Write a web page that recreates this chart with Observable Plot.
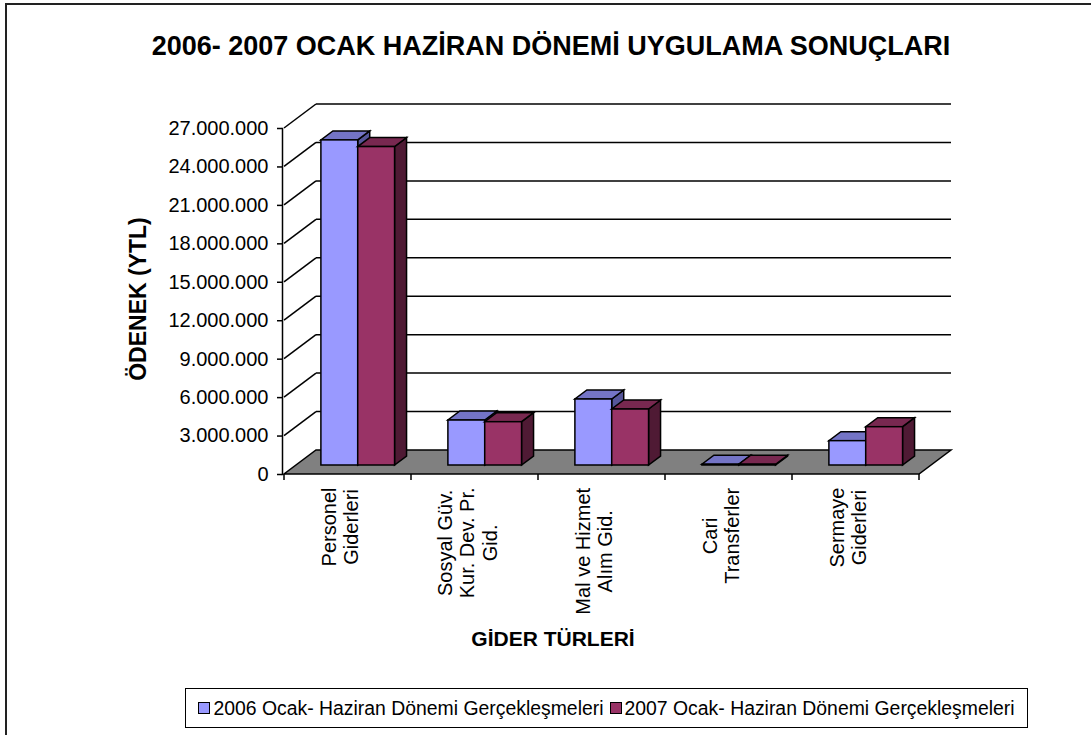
<!DOCTYPE html>
<html>
<head>
<meta charset="utf-8">
<script src="https://cdn.jsdelivr.net/npm/d3@7"></script>
<script src="https://cdn.jsdelivr.net/npm/@observablehq/plot@0.6"></script>
<style>
  html, body { margin: 0; padding: 0; background: #fff; }
  body { font-family: "Liberation Sans", Arial, sans-serif; color: #000; }
  #wrap { position: relative; width: 1091px; height: 735px; overflow: hidden; }
  #chart { position: absolute; left: 0; top: 0; }
  #chart svg { overflow: visible; }
  .border { position: absolute; left: 5px; top: 3px; width: 1200px; height: 800px;
            border-left: 2px solid #222; border-top: 2px solid #222; box-sizing: border-box; }
  .title { position: absolute; left: 0; width: 1102px; top: 33px; text-align: center;
           font-weight: bold; font-size: 27px; line-height: 1; white-space: nowrap; }
  .ylab { position: absolute; left: 138px; top: 299px; transform: translate(-50%, -50%) rotate(-90deg);
          font-weight: bold; font-size: 23px; line-height: 1; white-space: nowrap; }
  .xlab { position: absolute; left: 0; width: 1106px; top: 628px; text-align: center;
          font-weight: bold; font-size: 21px; line-height: 1; white-space: nowrap; }
  .legend { position: absolute; left: 185px; top: 688px; width: 843px; height: 40px;
            border: 1.5px solid #000; box-sizing: border-box; display: flex; align-items: center;
            justify-content: center; gap: 6px; font-size: 19.4px; white-space: nowrap; }
  .legend .item { display: flex; align-items: center; gap: 3px; }
  .legend .sw { width: 10px; height: 10px; border: 1px solid #000; display: inline-block; }
</style>
</head>
<body>
<div id="wrap">
  <div id="chart"></div>
  <div class="border"></div>
</div>
<script>
// ---------------- data ----------------
const categories = [
  "Personel Giderleri",
  "Sosyal Güv. Kur. Dev. Pr. Gid.",
  "Mal ve Hizmet Alım Gid.",
  "Cari Transferler",
  "Sermaye Giderleri"
];
const categoryLabels = [
  "Personel\nGiderleri",
  "Sosyal Güv.\nKur. Dev. Pr.\nGid.",
  "Mal ve Hizmet\nAlım Gid.",
  "Cari\nTransferler",
  "Sermaye\nGiderleri"
];
const seriesNames = [
  "2006 Ocak- Haziran Dönemi Gerçekleşmeleri",
  "2007 Ocak- Haziran Dönemi Gerçekleşmeleri"
];
const values2006 = [25370000, 3510000, 5150000, 60000, 1900000];
const values2007 = [24850000, 3380000, 4370000, 60000, 2990000];
const yTicks = [0, 3000000, 6000000, 9000000, 12000000, 15000000, 18000000, 21000000, 24000000, 27000000];

const titleText = "2006- 2007 OCAK HAZİRAN DÖNEMİ UYGULAMA SONUÇLARI";
const yTitle = "ÖDENEK (YTL)";
const xTitle = "GİDER TÜRLERİ";

// ---------------- styles ----------------
const frontColors = ["#9999FF", "#993366"];
const topColors = ["#7474C6", "#782850"];
const sideColors = ["#56569A", "#4F1A34"];
const WALL = {dx: 32, dy: -24};        // floor depth offset (front -> back wall)
const BAR_SHIFT = {dx: 12, dy: -9};    // bar front face offset inside the floor
const BAR_DEPTH = {dx: 12, dy: -9};    // bar thickness in depth
const barFrac = 0.29, groupOffset = 0.196;
const SW = 1.5;

const table = categories.flatMap((c, i) => [
  {category: c, series: 0, value: values2006[i]},
  {category: c, series: 1, value: values2007[i]}
]);
const labelData = categories.map((c, i) => ({category: c, label: categoryLabels[i]}));
const fmt = (v) => d3.format(",")(v).replace(/,/g, ".");

function bandwidthOf(x) {
  if (typeof x.bandwidth === "function") return x.bandwidth();
  return x(categories[1]) - x(categories[0]);
}

// floor, back wall gridlines, side wall diagonals
function walls(index, scales) {
  const {x, y} = scales;
  const bw = bandwidthOf(x);
  const x0 = x(categories[0]);
  const x1 = x(categories[categories.length - 1]) + bw;
  const y0 = y(0);
  const g = d3.create("svg:g");
  for (const t of yTicks) {
    if (t === 0) continue;
    const yt = y(t);
    g.append("line").attr("x1", x0 + WALL.dx).attr("x2", x1 + WALL.dx)
      .attr("y1", yt + WALL.dy).attr("y2", yt + WALL.dy)
      .attr("stroke", "#000").attr("stroke-width", SW);
    g.append("line").attr("x1", x0).attr("x2", x0 + WALL.dx)
      .attr("y1", yt).attr("y2", yt + WALL.dy)
      .attr("stroke", "#000").attr("stroke-width", SW);
  }
  g.append("path")
    .attr("d", `M${x0},${y0}L${x1},${y0}L${x1 + WALL.dx},${y0 + WALL.dy}L${x0 + WALL.dx},${y0 + WALL.dy}Z`)
    .attr("fill", "#808080").attr("stroke", "#000").attr("stroke-width", SW)
    .attr("stroke-linejoin", "miter");
  // category ticks at band boundaries
  for (let i = 0; i <= categories.length; i++) {
    const xb = i < categories.length ? x(categories[i]) : x1;
    g.append("line").attr("x1", xb).attr("x2", xb).attr("y1", y0).attr("y2", y0 + 6)
      .attr("stroke", "#000").attr("stroke-width", SW);
  }
  return g.node();
}

// 3D bars
function bars(index, scales) {
  const {x, y} = scales;
  const bw = bandwidthOf(x);
  const g = d3.create("svg:g").attr("stroke", "#000").attr("stroke-width", SW).attr("stroke-linejoin", "miter");
  for (const d of table) {
    const w = bw * barFrac;
    const xl = x(d.category) + bw * groupOffset + d.series * w + BAR_SHIFT.dx;
    const xr = xl + w;
    const yb = y(0) + BAR_SHIFT.dy;
    const yt = y(d.value) + BAR_SHIFT.dy;
    const ddx = BAR_DEPTH.dx, ddy = BAR_DEPTH.dy;
    g.append("path")
      .attr("d", `M${xr},${yt}L${xr + ddx},${yt + ddy}L${xr + ddx},${yb + ddy}L${xr},${yb}Z`)
      .attr("fill", sideColors[d.series]);
    g.append("path")
      .attr("d", `M${xl},${yt}L${xr},${yt}L${xr + ddx},${yt + ddy}L${xl + ddx},${yt + ddy}Z`)
      .attr("fill", topColors[d.series]);
    g.append("rect").attr("x", xl).attr("y", yt).attr("width", w).attr("height", Math.max(0, yb - yt))
      .attr("fill", frontColors[d.series]);
  }
  return g.node();
}

const plot = Plot.plot({
  width: 1091,
  height: 735,
  marginLeft: 282,
  marginRight: 171,
  marginTop: 128,
  marginBottom: 261,
  style: {fontFamily: '"Liberation Sans", Arial, sans-serif', color: "#000", background: "transparent", overflow: "visible"},
  x: {type: "band", domain: categories, padding: 0, axis: null},
  y: {domain: [0, 27000000], axis: null},
  marks: [
    walls,
    bars,
    Plot.frame({anchor: "left", stroke: "#000", strokeWidth: SW}),
    Plot.axisY(yTicks, {tickSize: 5, tickPadding: 9, fontSize: 20, tickFormat: fmt, label: null, strokeWidth: SW}),
    Plot.text(labelData, {
      x: "category", text: "label", rotate: -90, textAnchor: "middle", lineAnchor: "middle",
      frameAnchor: "bottom", fontSize: 20, lineHeight: 1.12, fill: "#000", className: "catlab"
    })
  ]
});

document.getElementById("chart").appendChild(plot);

// anchor the rotated, centre-aligned category label blocks so their top edge sits just below the axis
const labelTop = 487;
plot.querySelectorAll(".catlab text").forEach((t) => {
  const bb = t.getBBox();
  const m = /translate\(([-\d.e]+),\s*([-\d.e]+)\)/.exec(t.getAttribute("transform") || "");
  if (!m) return;
  const X = +m[1];
  const newY = labelTop + bb.x + bb.width;
  t.setAttribute("transform", `translate(${X - 8},${newY}) rotate(-90)`);
});

// titles & legend (HTML around the SVG)
const wrap = document.getElementById("wrap");
const addDiv = (cls, text) => { const d = document.createElement("div"); d.className = cls; d.textContent = text; wrap.appendChild(d); return d; };
addDiv("title", titleText);
addDiv("ylab", yTitle);
addDiv("xlab", xTitle);
const legend = document.createElement("div");
legend.className = "legend";
seriesNames.forEach((name, i) => {
  const item = document.createElement("span");
  item.className = "item";
  const sw = document.createElement("span");
  sw.className = "sw";
  sw.style.background = frontColors[i];
  const tx = document.createElement("span");
  tx.textContent = name;
  item.appendChild(sw); item.appendChild(tx);
  legend.appendChild(item);
});
wrap.appendChild(legend);
</script>
</body>
</html>
